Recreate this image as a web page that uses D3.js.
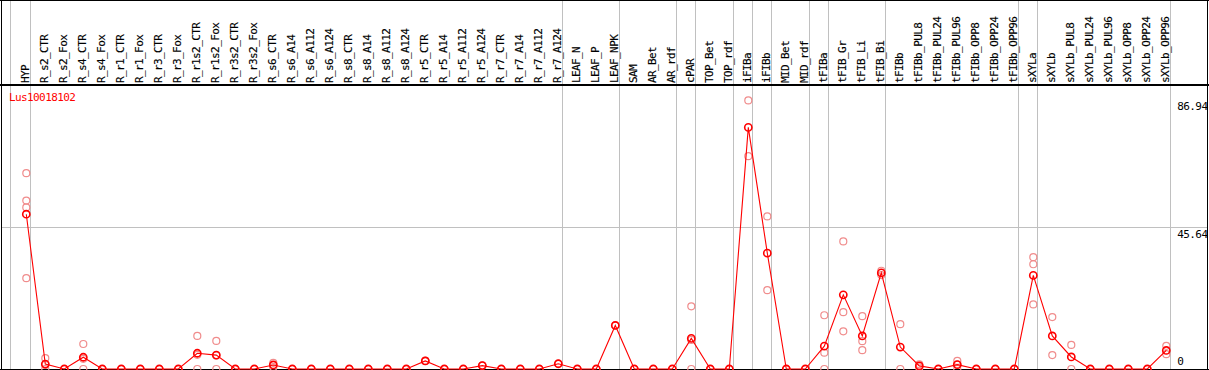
<!DOCTYPE html>
<html>
<head>
<meta charset="utf-8">
<script src="https://cdn.jsdelivr.net/npm/d3@7"></script>
<style>
  html, body { margin: 0; padding: 0; background: #fff; }
  svg { display: block; }
  text { font-family: "DejaVu Sans Mono", "Liberation Mono", monospace; font-size: 11px; letter-spacing: -0.6px; }
</style>
</head>
<body>
<script>
const geneName = "Lus10018102";

const categories = [
  "HYP",
  "R_s2_CTR", "R_s2_Fox", "R_s4_CTR", "R_s4_Fox", "R_r1_CTR", "R_r1_Fox", "R_r3_CTR", "R_r3_Fox",
  "R_r1s2_CTR", "R_r1s2_Fox", "R_r3s2_CTR", "R_r3s2_Fox",
  "R_s6_CTR", "R_s6_A14", "R_s6_A112", "R_s6_A124",
  "R_s8_CTR", "R_s8_A14", "R_s8_A112", "R_s8_A124",
  "R_r5_CTR", "R_r5_A14", "R_r5_A112", "R_r5_A124",
  "R_r7_CTR", "R_r7_A14", "R_r7_A112", "R_r7_A124",
  "LEAF_N", "LEAF_P", "LEAF_NPK",
  "SAM", "AR_Bet", "AR_rdf",
  "cPAR", "TOP_Bet", "TOP_rdf",
  "iFIBa", "iFIBb", "MID_Bet", "MID_rdf",
  "tFIBa", "tFIB_Gr", "tFIB_Li", "tFIB_Bi",
  "tFIBb", "tFIBb_PUL8", "tFIBb_PUL24", "tFIBb_PUL96", "tFIBb_OPP8", "tFIBb_OPP24", "tFIBb_OPP96",
  "sXYLa",
  "sXYLb", "sXYLb_PUL8", "sXYLb_PUL24", "sXYLb_PUL96", "sXYLb_OPP8", "sXYLb_OPP24", "sXYLb_OPP96"
];

const means = [
  50.1,
  1.6, 0, 3.8, 0, 0, 0, 0, 0,
  5.1, 4.5, 0, 0,
  1.3, 0, 0, 0,
  0, 0, 0, 0,
  2.6, 0, 0, 1.1,
  0, 0, 0, 1.7,
  0, 0, 14.1,
  0, 0, 0,
  9.9, 0, 0,
  78.2, 37.5, 0, 0,
  7.4, 24.0, 10.7, 31.1,
  7.1, 1.0, 0, 1.4, 0, 0, 0,
  30.3,
  10.7, 3.9, 0, 0, 0, 0, 6.0
];

const replicates = [
  [63.4, 54.5, 52.3, 29.4],
  [3.5, 1.3, 0], [0, 0], [8.1, 3.3, 0], [0, 0], [0, 0], [0, 0], [0, 0], [0, 0],
  [10.7, 4.6, 0], [9.1, 4.4, 0], [0, 0], [0, 0],
  [2.0, 1.3, 0.6], [0, 0], [0, 0], [0, 0],
  [0, 0], [0, 0], [0, 0], [0, 0],
  [2.6, 2.6], [0, 0], [0, 0], [1.1, 1.1],
  [0, 0], [0, 0], [0, 0], [1.7, 1.7],
  [0, 0], [0, 0], [14.1],
  [0, 0], [0, 0], [0, 0],
  [20.3, 9.4, 0], [0, 0], [0, 0],
  [86.94, 68.9], [49.4, 25.5], [0, 0], [0, 0],
  [17.4, 5.3, 0], [41.3, 18.4, 12.2], [17.1, 9.0, 6.1], [31.8, 30.4],
  [14.5, 0], [1.5, 0.5], [0, 0], [2.6, 1.4, 0], [0, 0], [0, 0], [0, 0],
  [36.2, 33.9, 20.9],
  [16.8, 4.5], [7.8, 0], [0, 0], [0, 0], [0, 0], [0, 0], [7.5, 4.8]
];

// index of last category in each group (gray separators drawn after them)
const groupEnds = [0, 28, 31, 34, 35, 37, 38, 39, 41, 42, 45, 52, 53, 60];

const tickValues = [0, 45.64, 86.94];
const tickLabels = ["0", "45.64", "86.94"];

const W = 1209, H = 370;
const headerBottom = 85;
const plotBottom = 369;
const rightEdge = 1207;

const svg = d3.select("body").append("svg")
  .attr("width", W).attr("height", H);

const x = d3.scaleLinear().domain([0, categories.length - 1]).range([26.3, 1166.3]);
const y = d3.scaleLinear().domain([0, 86.94]).range([plotBottom, 100.4]);

// vertical gray separators
const sepX = [Math.floor(x(0) - 16) + 0.5].concat(groupEnds.map(i => Math.floor(x(i) + 4) + 0.5));
svg.append("g").selectAll("line").data(sepX).join("line")
  .attr("x1", d => d).attr("x2", d => d)
  .attr("y1", 0).attr("y2", H)
  .attr("stroke", "#c0c0c0").attr("stroke-width", 1);

// horizontal gray grid line at middle tick
svg.append("g").selectAll("line").data(tickValues.filter(v => v > 0 && v < d3.max(tickValues))).join("line")
  .attr("x1", 1).attr("x2", rightEdge)
  .attr("y1", d => Math.floor(y(d)) + 0.5).attr("y2", d => Math.floor(y(d)) + 0.5)
  .attr("stroke", "#c0c0c0").attr("stroke-width", 1);

// frame lines
svg.append("line").attr("x1", 0).attr("x2", W).attr("y1", 0.5).attr("y2", 0.5).attr("stroke", "#000");
svg.append("line").attr("x1", 0).attr("x2", W).attr("y1", headerBottom).attr("y2", headerBottom).attr("stroke", "#000").attr("stroke-width", 2);
svg.append("line").attr("x1", 0).attr("x2", W).attr("y1", plotBottom + 0.5).attr("y2", plotBottom + 0.5).attr("stroke", "#000");
svg.append("line").attr("x1", 1.5).attr("x2", 1.5).attr("y1", 0).attr("y2", H).attr("stroke", "#000");
svg.append("line").attr("x1", rightEdge + 0.5).attr("x2", rightEdge + 0.5).attr("y1", 0).attr("y2", H).attr("stroke", "#000");

// rotated category labels
svg.append("g").selectAll("text").data(categories).join("text")
  .attr("transform", (d, i) => `translate(${Math.round(x(i) + 3)},${headerBottom - 2}) rotate(-90)`)
  .attr("fill", "#000")
  .attr("stroke", "#000").attr("stroke-width", 0.15)
  .text(d => d);

// gene name
svg.append("text").attr("x", 9).attr("y", 101).attr("fill", "#ff0000").text(geneName);

// right axis labels (left-aligned in the right margin)
svg.append("g").selectAll("text").data(tickValues).join("text")
  .attr("x", x(categories.length - 1) + 11)
  .attr("y", (d, i) => Math.min(y(d) + 10, plotBottom - 4))
  .attr("text-anchor", "start")
  .attr("fill", "#000")
  .text((d, i) => tickLabels[i]);

// replicate points
const repData = [];
replicates.forEach((arr, i) => arr.forEach(v => repData.push({ i, v })));
svg.append("g").selectAll("circle").data(repData).join("circle")
  .attr("cx", d => x(d.i)).attr("cy", d => y(d.v)).attr("r", 3.5)
  .attr("fill", "none").attr("stroke", "#f08c8c").attr("stroke-width", 1.2);

// mean line
svg.append("path").datum(means)
  .attr("d", d3.line().x((d, i) => x(i)).y(d => y(d)))
  .attr("fill", "none").attr("stroke", "#ff0000").attr("stroke-width", 1.1);

// mean points
svg.append("g").selectAll("circle").data(means).join("circle")
  .attr("cx", (d, i) => x(i)).attr("cy", d => y(d)).attr("r", 3.6)
  .attr("fill", "none").attr("stroke", "#ff0000").attr("stroke-width", 1.6);
</script>
</body>
</html>
